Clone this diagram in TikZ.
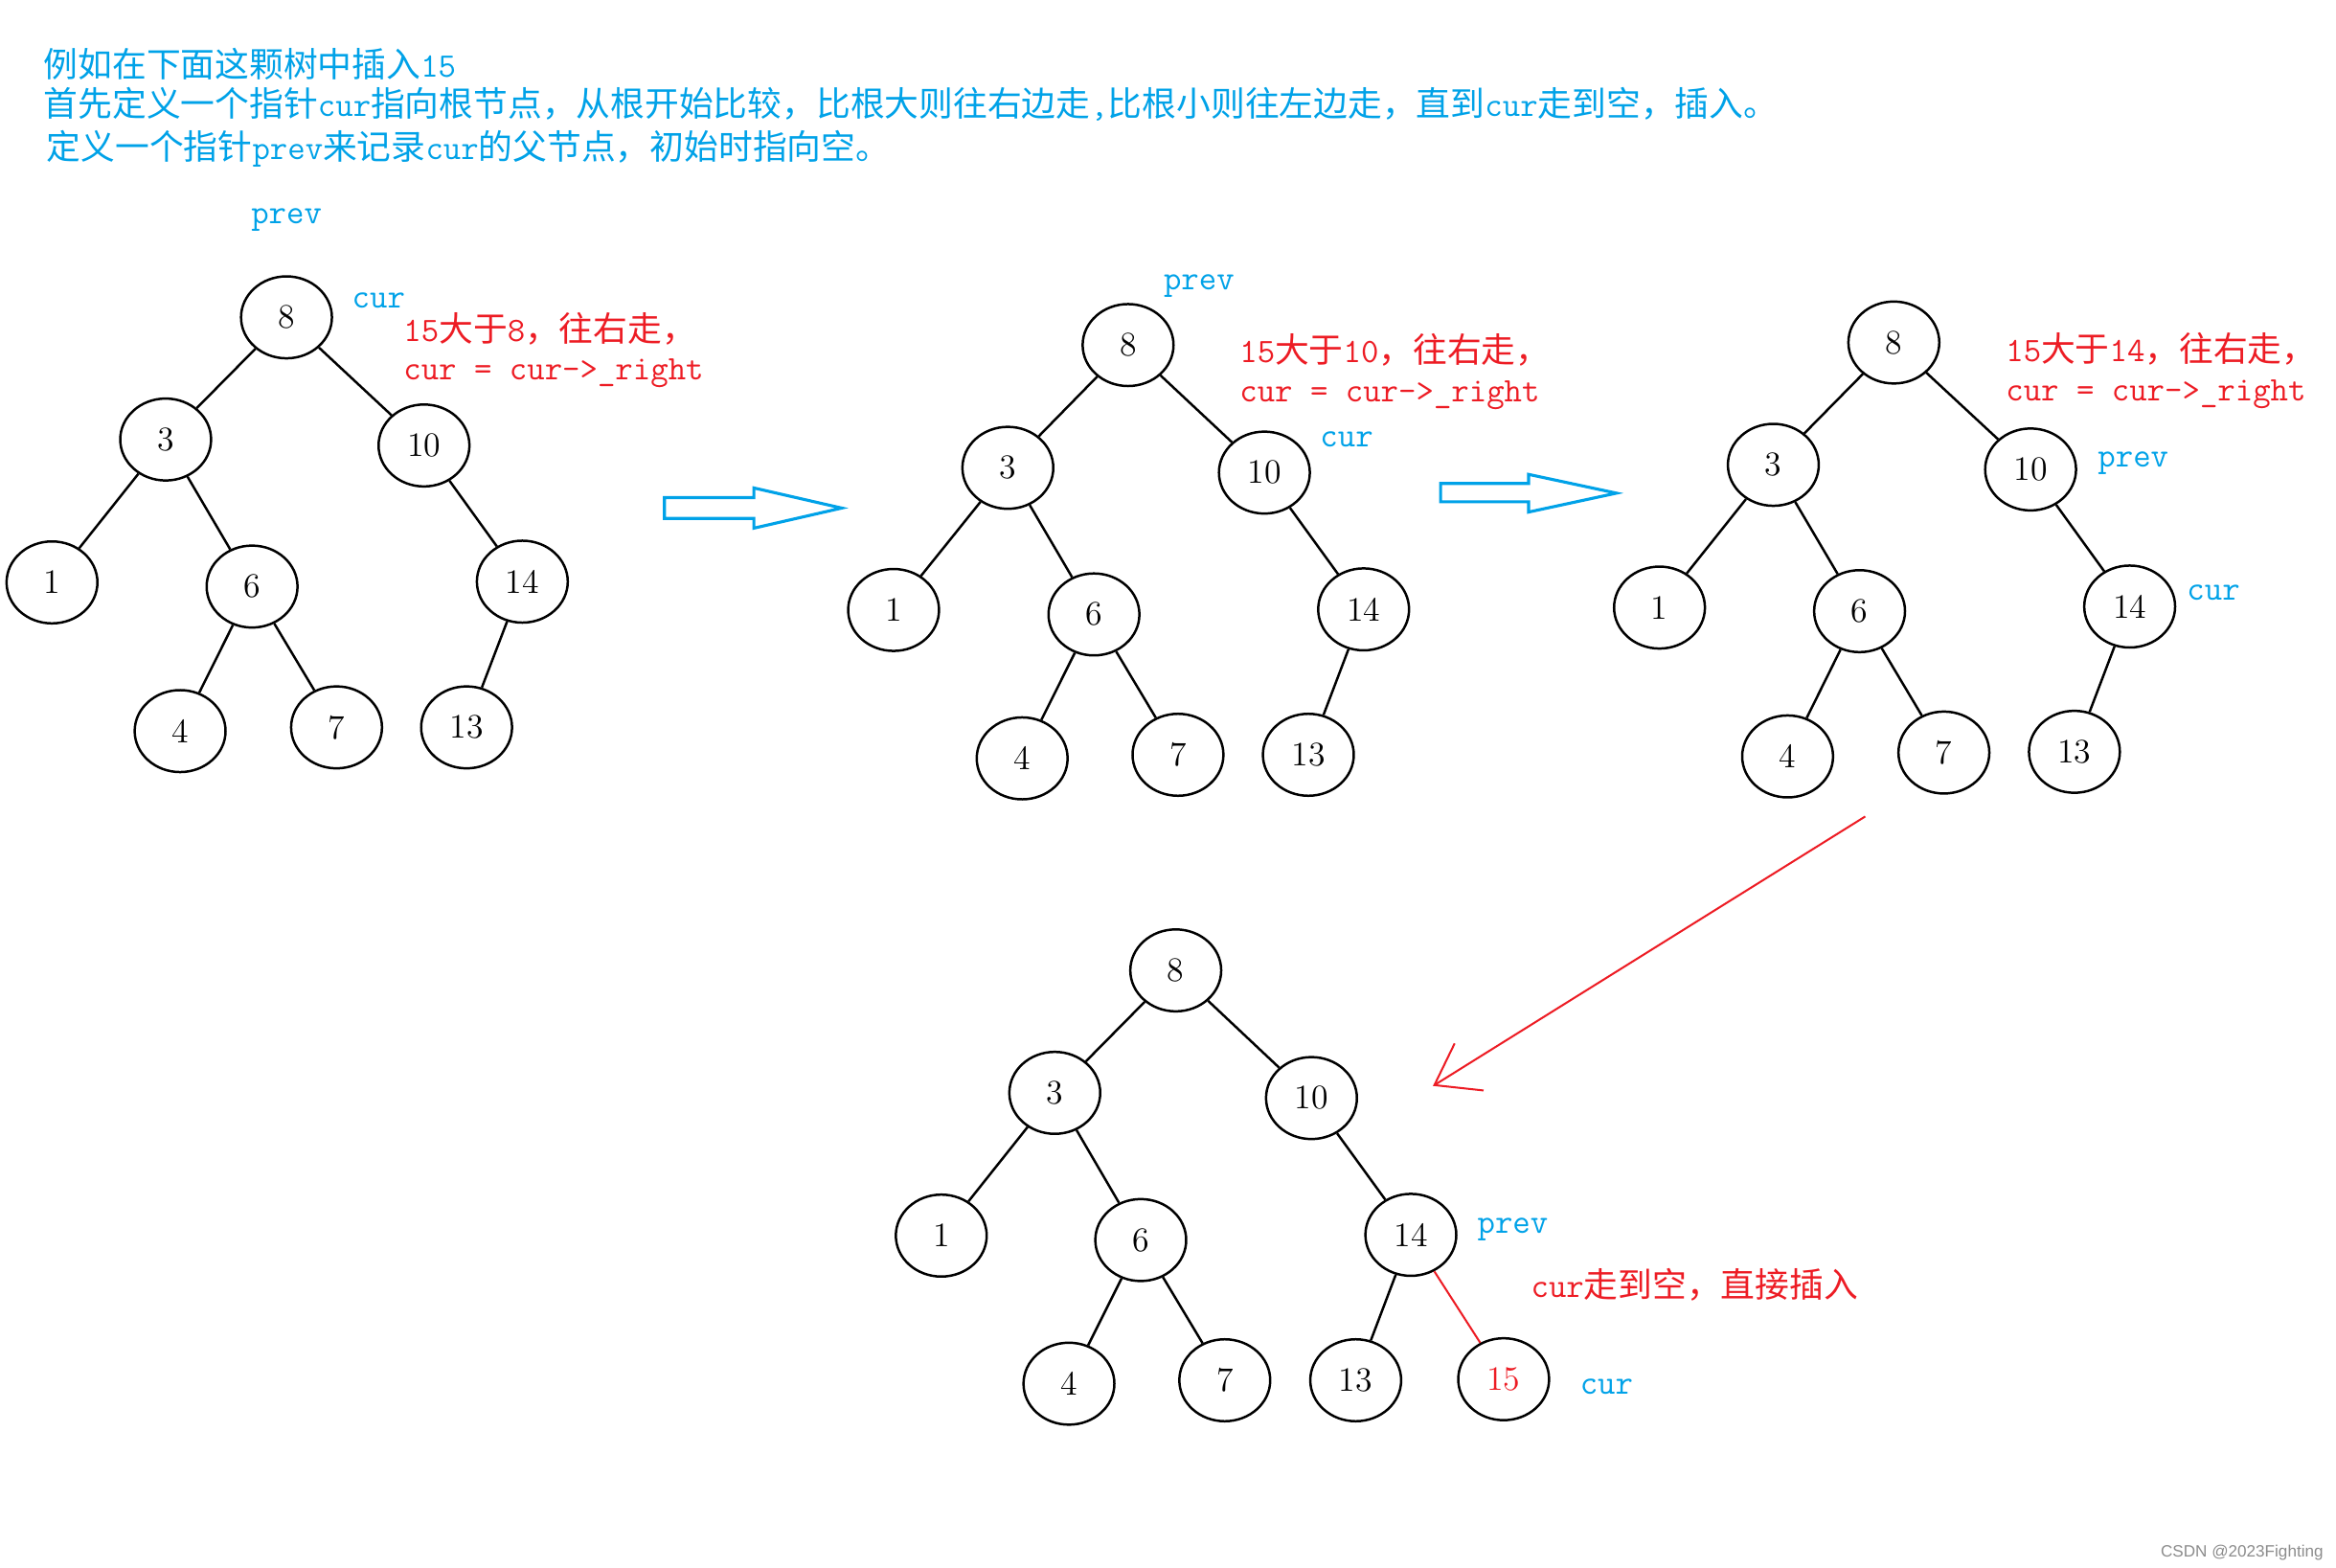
\documentclass[tikz,border=0pt]{standalone}
\usepackage{fontspec}
\newfontfamily\zh{Noto Sans CJK SC}
\newfontfamily\wm{Liberation Sans}
\usetikzlibrary{shapes.geometric}
\definecolor{pblue}{RGB}{0,162,232}
\definecolor{pred}{RGB}{237,28,36}
\newcommand\tl[1]{{\ttfamily #1}}
\tikzset{
  tn/.style={ellipse, draw, line width=0.8pt, minimum width=30.5pt, minimum height=27.5pt, inner sep=0pt, font=\fontsize{11.5}{13}\selectfont},
  edge/.style={line width=0.8pt},
  lbl/.style={inner sep=0pt, anchor=west, text=pblue, font=\fontsize{11.5}{13}\selectfont\ttfamily},
  lblc/.style={inner sep=0pt, text=pblue, font=\fontsize{11.5}{13}\selectfont\ttfamily},
  note/.style={inner sep=0pt, anchor=west, text=pred, font=\fontsize{11.5}{13}\selectfont},
  hdr/.style={inner sep=0pt, anchor=west, text=pblue, font=\fontsize{11.5}{13}\selectfont},
  hollow/.style={draw=pblue, line width=1pt, line join=miter},
  redline/.style={draw=pred, line width=0.65pt},
}
\begin{document}
\begin{tikzpicture}[x=0.5pt,y=-0.5pt]
\fill[white] (0,0) rectangle (1568,1052);
\useasboundingbox (0,0) rectangle (1568,1052);

% header
\node[hdr] (h1) at (29,43) {\zh 例如在下面这颗树中插入\tl{15}};
\node[hdr] (h2) at (29,70) {\zh 首先定义一个指针\tl{cur}指向根节点，从根开始比较，比根大则往右边走\tl{,}比根小则往左边走，直到\tl{cur}走到空，插入。};
\node[hdr] (h3) at (31,100) {\zh 定义一个指针\tl{prev}来记录\tl{cur}的父节点，初始时指向空。};

% tree 1
\node[tn] (a8)  at (192.3,213) {8};
\node[tn] (a3)  at (111.2,295) {3};
\node[tn] (a10) at (284.6,299) {10};
\node[tn] (a1)  at (34.9,390.9) {1};
\node[tn] (a6)  at (169.2,393.7) {6};
\node[tn] (a14) at (350.6,390.4) {14};
\node[tn] (a4)  at (120.9,490.7) {4};
\node[tn] (a7)  at (225.9,488.2) {7};
\node[tn] (a13) at (313.2,488.2) {13};
\node[lblc] (ap) at (192.3,147.7) {prev};
\node[lbl] (ac) at (236,201.5) {cur};
\node[note] (an1) at (270.5,220.6) {\tl{15}{\zh 大于}\tl{8}{\zh ，往右走，}};
\node[note] (an2) at (270.5,250.6) {\tl{cur = cur->\_right}};

% tree 2
\node[tn] (b8)  at (757.2,231.6) {8};
\node[tn] (b3)  at (676.5,314) {3};
\node[tn] (b10) at (848.7,317.2) {10};
\node[tn] (b1)  at (599.8,409.4) {1};
\node[tn] (b6)  at (734.3,412.4) {6};
\node[tn] (b14) at (915.3,409) {14};
\node[tn] (b4)  at (686.1,509) {4};
\node[tn] (b7)  at (790.7,506.6) {7};
\node[tn] (b13) at (878.2,506.6) {13};
\node[lblc] (bp) at (804.8,191.7) {prev};
\node[note] (bn1) at (831.7,234.8) {\tl{15}{\zh 大于}\tl{10}{\zh ，往右走，}};
\node[note] (bn2) at (831.7,265.5) {\tl{cur = cur->\_right}};
\node[lbl] (bc) at (885.8,295) {cur};

% tree 3
\node[tn] (c8)  at (1271.2,229.9) {8};
\node[tn] (c3)  at (1190.3,312) {3};
\node[tn] (c10) at (1363,315.1) {10};
\node[tn] (c1)  at (1113.9,407.8) {1};
\node[tn] (c6)  at (1248.2,410.2) {6};
\node[tn] (c14) at (1429.5,407.1) {14};
\node[tn] (c4)  at (1199.9,507.7) {4};
\node[tn] (c7)  at (1304.8,505.1) {7};
\node[tn] (c13) at (1392.4,504.6) {13};
\node[note] (cn1) at (1346,234.2) {\tl{15}{\zh 大于}\tl{14}{\zh ，往右走，}};
\node[note] (cn2) at (1346,264.4) {\tl{cur = cur->\_right}};
\node[lbl] (cp) at (1407.8,310.8) {prev};
\node[lbl] (cc) at (1467.6,397.6) {cur};

% tree 4
\node[tn] (d8)  at (789.2,651.3) {8};
\node[tn] (d3)  at (708,733.5) {3};
\node[tn] (d10) at (880.3,737) {10};
\node[tn] (d1)  at (631.8,829.3) {1};
\node[tn] (d6)  at (765.7,832.3) {6};
\node[tn] (d14) at (947,828.8) {14};
\node[tn] (d4)  at (717.5,928.7) {4};
\node[tn] (d7)  at (822.1,926.4) {7};
\node[tn] (d13) at (910,926.4) {13};
\node[tn, text=pred] (d15) at (1009.3,925.7) {15};
\node[lbl] (dp) at (991.3,825.4) {prev};
\node[note] (dn) at (1027.3,862.1) {\tl{cur}{\zh 走到空，直接插入}};
\node[lbl] (dc) at (1060.2,931) {cur};

\foreach \t in {a,b,c,d}{
  \draw[edge] (\t8)--(\t3) (\t8)--(\t10) (\t3)--(\t1) (\t3)--(\t6)
              (\t6)--(\t4) (\t6)--(\t7) (\t10)--(\t14) (\t14)--(\t13);
}
\draw[redline] (d14) -- (d15);

% hollow arrows
\draw[hollow] (446,334) -- (506,334) -- (506,327.5) -- (565,341) -- (506,354.5) -- (506,348) -- (446,348) -- cycle;
\draw[hollow] (967,324.5) -- (1026,324.5) -- (1026,318.4) -- (1085,331) -- (1026,343.7) -- (1026,336.8) -- (967,336.8) -- cycle;

% red arrow
\coordinate (rs) at (1252,548);
\coordinate (rt) at (962.8,728.3);
\coordinate (ra1) at (976.4,700.3);
\coordinate (ra2) at (995.8,731.9);
\draw[redline] (rs) -- (rt);
\draw[redline, line join=miter] (ra1) -- (rt) -- (ra2);

% watermark
\node[inner sep=0pt, anchor=west, text=black!45, font=\wm\fontsize{5.5}{6}\selectfont] (wm) at (1450,1042) {CSDN @2023Fighting};
\end{tikzpicture}
\end{document}
